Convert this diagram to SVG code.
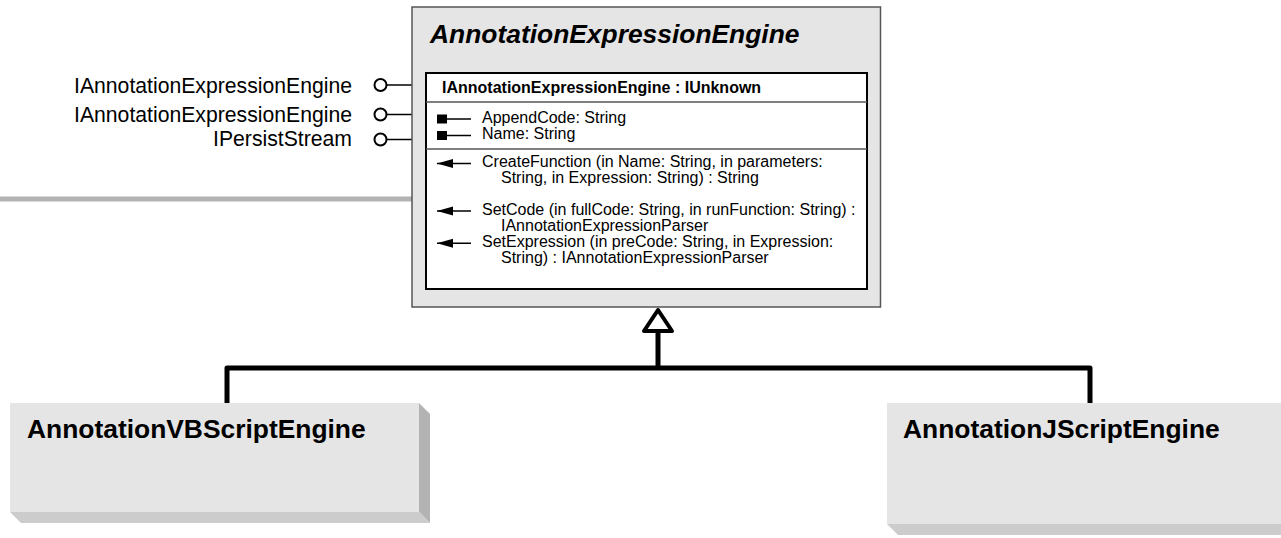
<svg xmlns="http://www.w3.org/2000/svg" width="1281" height="538" viewBox="0 0 1281 538">
<style>
text{font-family:"Liberation Sans",Arial,sans-serif;fill:#000}
.lbl{font-size:21.2px}
.mem{font-size:16px}
.hdr{font-size:16px;font-weight:bold}
.cls{font-size:26.4px;font-weight:bold}
.face{fill:#e5e5e5}
.side{fill:#b3b3b3}
.bot{fill:#cccccc}
.conn{fill:none;stroke:#000;stroke-width:5;stroke-linejoin:round}
.thin{stroke:#000;stroke-width:1.5;fill:none}
.lol{fill:#fff;stroke:#000;stroke-width:2}
</style>
<defs>
<marker id="ah" markerWidth="17" markerHeight="10" refX="0" refY="5" orient="auto" markerUnits="userSpaceOnUse">
<path d="M0,5 L16,0.5 L16,9.5 Z" fill="#000"/>
</marker>
</defs>

<g id="connectors">
<line x1="0" y1="199" x2="412" y2="199" stroke="#b3b3b3" stroke-width="5"/>
<line x1="387" y1="85" x2="426" y2="85" class="thin"/>
<line x1="387" y1="114.5" x2="412" y2="114.5" class="thin"/>
<line x1="387" y1="139.5" x2="412" y2="139.5" class="thin"/>
<path class="conn" d="M227,403 L227,368 L1090,368 L1090,403"/>
<line class="conn" x1="658" y1="368" x2="658" y2="332"/>
<path d="M658,310 L672,331 L644,331 Z" fill="#fff" stroke="#000" stroke-width="4" stroke-linejoin="round"/>
</g>

<g id="AnnotationExpressionEngine">
<rect x="412" y="7" width="468.5" height="300" fill="#e5e5e5" stroke="#555" stroke-width="1.5"/>
<text x="430" y="43" class="cls" font-style="italic" font-size="26.8">AnnotationExpressionEngine</text>
<rect x="426" y="73" width="441" height="216" fill="#fff" stroke="#000" stroke-width="2"/>
<line x1="426" y1="102" x2="867" y2="102" stroke="#555" stroke-width="1.5"/>
<line x1="426" y1="149" x2="867" y2="149" stroke="#555" stroke-width="1.5"/>
<text x="442" y="93" class="hdr">IAnnotationExpressionEngine : IUnknown</text>
<rect x="437" y="114.5" width="10" height="9" fill="#000"/>
<line x1="447" y1="119" x2="471" y2="119" class="thin"/>
<rect x="437" y="131" width="10" height="9" fill="#000"/>
<line x1="447" y1="135.5" x2="471" y2="135.5" class="thin"/>
<text x="482" y="123" class="mem">AppendCode: String</text>
<text x="482" y="139" class="mem">Name: String</text>
<line x1="437" y1="163.5" x2="471" y2="163.5" class="thin" marker-start="url(#ah)"/>
<line x1="437" y1="211" x2="471" y2="211" class="thin" marker-start="url(#ah)"/>
<line x1="437" y1="243.3" x2="471" y2="243.3" class="thin" marker-start="url(#ah)"/>
<text x="482" y="167" class="mem">CreateFunction (in Name: String, in parameters:</text>
<text x="501" y="183" class="mem">String, in Expression: String) : String</text>
<text x="482" y="215" class="mem">SetCode (in fullCode: String, in runFunction: String) :</text>
<text x="501" y="231" class="mem">IAnnotationExpressionParser</text>
<text x="482" y="247" class="mem">SetExpression (in preCode: String, in Expression:</text>
<text x="501" y="263" class="mem">String) : IAnnotationExpressionParser</text>
</g>

<g id="interfaces">
<circle cx="380.5" cy="85" r="6" class="lol"/>
<circle cx="380.5" cy="114.5" r="6" class="lol"/>
<circle cx="380.5" cy="139.5" r="6" class="lol"/>
<text x="352" y="92.5" class="lbl" text-anchor="end">IAnnotationExpressionEngine</text>
<text x="352" y="122" class="lbl" text-anchor="end">IAnnotationExpressionEngine</text>
<text x="352" y="146" class="lbl" text-anchor="end">IPersistStream</text>
</g>

<g id="AnnotationVBScriptEngine">
<path class="side" d="M419,403 L430,414 L430,523 L419,512 Z"/>
<path class="bot" d="M10,512 L419,512 L430,523 L21,523 Z"/>
<rect class="face" x="10" y="403" width="409" height="109"/>
<text x="27" y="438" class="cls">AnnotationVBScriptEngine</text>
</g>

<g id="AnnotationJScriptEngine">
<path class="bot" d="M887,524 L1290,524 L1301,535 L898,535 Z"/>
<rect class="face" x="887" y="403" width="403" height="121"/>
<text x="903" y="438" class="cls">AnnotationJScriptEngine</text>
</g>
</svg>
